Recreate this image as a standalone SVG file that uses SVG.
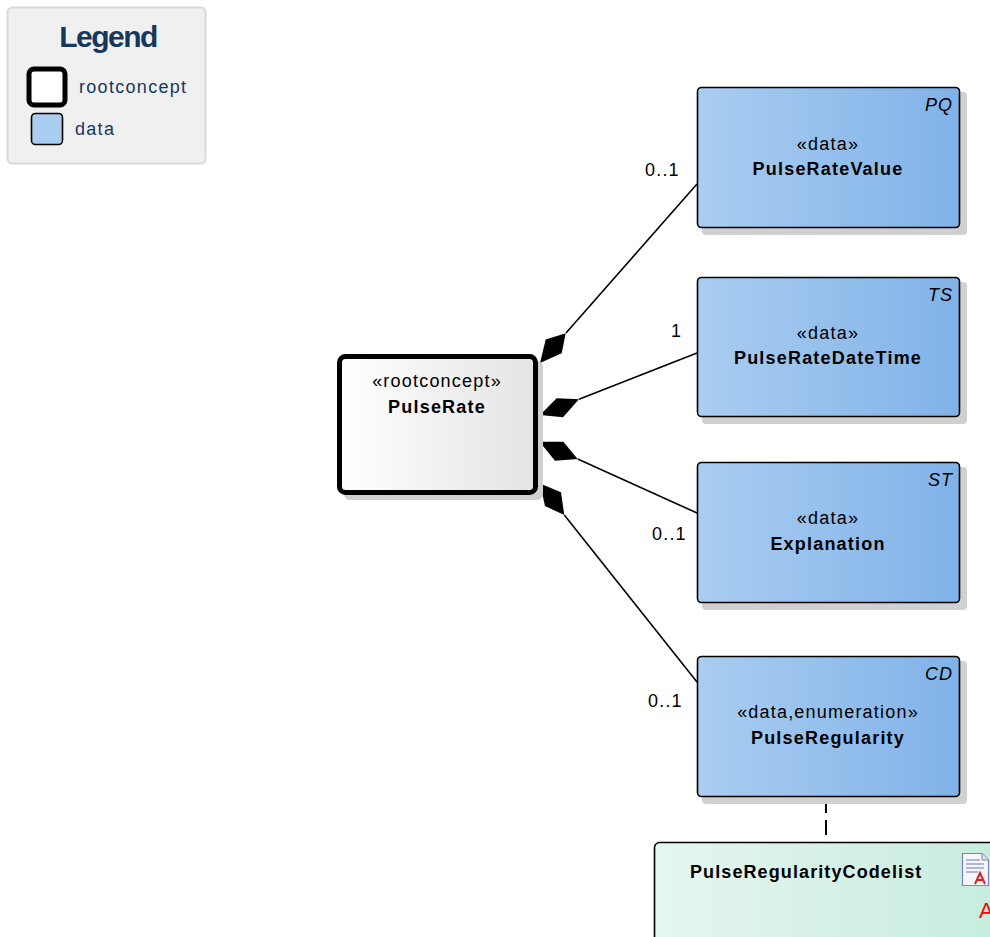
<svg xmlns="http://www.w3.org/2000/svg" width="990" height="937" viewBox="0 0 990 937">
<defs>
<linearGradient id="gData" x1="0" y1="0" x2="1" y2="0">
<stop offset="0" stop-color="#aacdf1"/><stop offset="1" stop-color="#80b2e8"/>
</linearGradient>
<linearGradient id="gRoot" x1="0" y1="0" x2="1" y2="0">
<stop offset="0" stop-color="#ffffff"/><stop offset="1" stop-color="#e4e4e4"/>
</linearGradient>
<linearGradient id="gCode" x1="0" y1="0" x2="1" y2="0">
<stop offset="0" stop-color="#e6f6f0"/><stop offset="1" stop-color="#c6ecdd"/>
</linearGradient>
<style>
text{font-family:"Liberation Sans",Arial,sans-serif;}
.shadow{fill:#d0d0d0;}
.data{fill:url(#gData);stroke:#000;stroke-width:1.6;}
.st{font-size:18px;letter-spacing:1.2px;fill:#000;text-anchor:middle;}
.nm{font-size:18px;letter-spacing:1.2px;font-weight:bold;fill:#000;text-anchor:middle;}
.ty{font-size:18px;letter-spacing:1px;font-style:italic;fill:#000;text-anchor:end;}
.mult{font-size:18px;letter-spacing:1.2px;fill:#000;}
.conn{stroke:#000;stroke-width:1.6;fill:none;}
.dia{fill:#000;stroke:none;}
.leg{font-size:18px;letter-spacing:1.3px;fill:#17375e;}
</style>
</defs>

<g id="legend">
<rect x="7.5" y="7.5" width="198" height="156" rx="5" fill="#f0f0f0" stroke="#d9d9d9" stroke-width="2"/>
<text x="108" y="47" font-size="30" font-weight="bold" fill="#17375e" text-anchor="middle" letter-spacing="-1.5">Legend</text>
<rect x="29" y="69" width="36" height="36" rx="5" fill="#fff" stroke="#000" stroke-width="5"/>
<text class="leg" x="79" y="93">rootconcept</text>
<rect x="31.5" y="113.5" width="31" height="31" rx="4" fill="#aacdf1" stroke="#000" stroke-width="1.6"/>
<text class="leg" x="75" y="135">data</text>
</g>

<g id="connectors">
<line class="conn" x1="566" y1="333" x2="697" y2="184"/>
<polygon class="dia" points="540,363 545.7,339.5 565.7,333.3 561.7,353.3"/>
<line class="conn" x1="579" y1="399.3" x2="697" y2="353"/>
<polygon class="dia" points="540,415 556.7,398.3 579,399.3 563,417.3"/>
<line class="conn" x1="577.7" y1="459" x2="697" y2="513"/>
<polygon class="dia" points="539.5,441.7 563.3,441.7 577.7,459 555,460.7"/>
<line class="conn" x1="564.3" y1="515" x2="697" y2="682"/>
<polygon class="dia" points="540,483.5 561,492.3 564.3,515 545,506"/>
<line x1="826" y1="798" x2="826" y2="842" stroke="#000" stroke-width="2" stroke-dasharray="15,7"/>
<text class="mult" x="645" y="176">0..1</text>
<text class="mult" x="671" y="337">1</text>
<text class="mult" x="652" y="540">0..1</text>
<text class="mult" x="648" y="707">0..1</text>
</g>

<g id="PulseRate">
<rect class="shadow" x="344" y="361" width="199" height="139" rx="6"/>
<rect x="339.5" y="356.5" width="196" height="136" rx="6" fill="url(#gRoot)" stroke="#000" stroke-width="5"/>
<text class="st" x="437" y="387">«rootconcept»</text>
<text class="nm" x="437" y="413">PulseRate</text>
</g>

<g id="PulseRateValue">
<rect class="shadow" x="702" y="92" width="265" height="143" rx="4"/>
<rect class="data" x="697.5" y="87.5" width="262" height="140" rx="4"/>
<text class="ty" x="953" y="111">PQ</text>
<text class="st" x="828" y="150">«data»</text>
<text class="nm" x="828" y="175">PulseRateValue</text>
</g>

<g id="PulseRateDateTime">
<rect class="shadow" x="702" y="282" width="265" height="142" rx="4"/>
<rect class="data" x="697.5" y="277.5" width="262" height="139" rx="4"/>
<text class="ty" x="953" y="301">TS</text>
<text class="st" x="828" y="339">«data»</text>
<text class="nm" x="828" y="364">PulseRateDateTime</text>
</g>

<g id="Explanation">
<rect class="shadow" x="702" y="467" width="265" height="143" rx="4"/>
<rect class="data" x="697.5" y="462.5" width="262" height="140" rx="4"/>
<text class="ty" x="953" y="486">ST</text>
<text class="st" x="828" y="524">«data»</text>
<text class="nm" x="828" y="550">Explanation</text>
</g>

<g id="PulseRegularity">
<rect class="shadow" x="702" y="661" width="265" height="143" rx="4"/>
<rect class="data" x="697.5" y="656.5" width="262" height="140" rx="4"/>
<text class="ty" x="953" y="680">CD</text>
<text class="st" x="828" y="718">«data,enumeration»</text>
<text class="nm" x="828" y="744">PulseRegularity</text>
</g>

<g id="PulseRegularityCodelist">
<rect x="654.5" y="842.5" width="350" height="120" rx="5" fill="url(#gCode)" stroke="#000" stroke-width="1.6"/>
<text x="690" y="878" font-size="18" letter-spacing="1.1" font-weight="bold" fill="#000">PulseRegularityCodelist</text>
<g id="codelist-icon">
<path d="M962.5,853.5 H982 L988.5,860 V885.5 H962.5 Z" fill="#f4f6fb" stroke="#7a86b8" stroke-width="1.2"/>
<path d="M982,853.5 V860 H988.5" fill="#dfe4f2" stroke="#7a86b8" stroke-width="1"/>
<line x1="966" y1="860" x2="980" y2="860" stroke="#8a96c8" stroke-width="1.3"/>
<line x1="966" y1="864" x2="984" y2="864" stroke="#8a96c8" stroke-width="1.3"/>
<line x1="966" y1="868" x2="984" y2="868" stroke="#8a96c8" stroke-width="1.3"/>
<line x1="966" y1="872" x2="978" y2="872" stroke="#8a96c8" stroke-width="1.3"/>
<path d="M975,884 L980,873 L985,884 M977,880 H983" fill="none" stroke="#e02020" stroke-width="2"/>
</g>
<text x="979" y="918" font-size="22" fill="#ff0000">A</text>
</g>
</svg>
